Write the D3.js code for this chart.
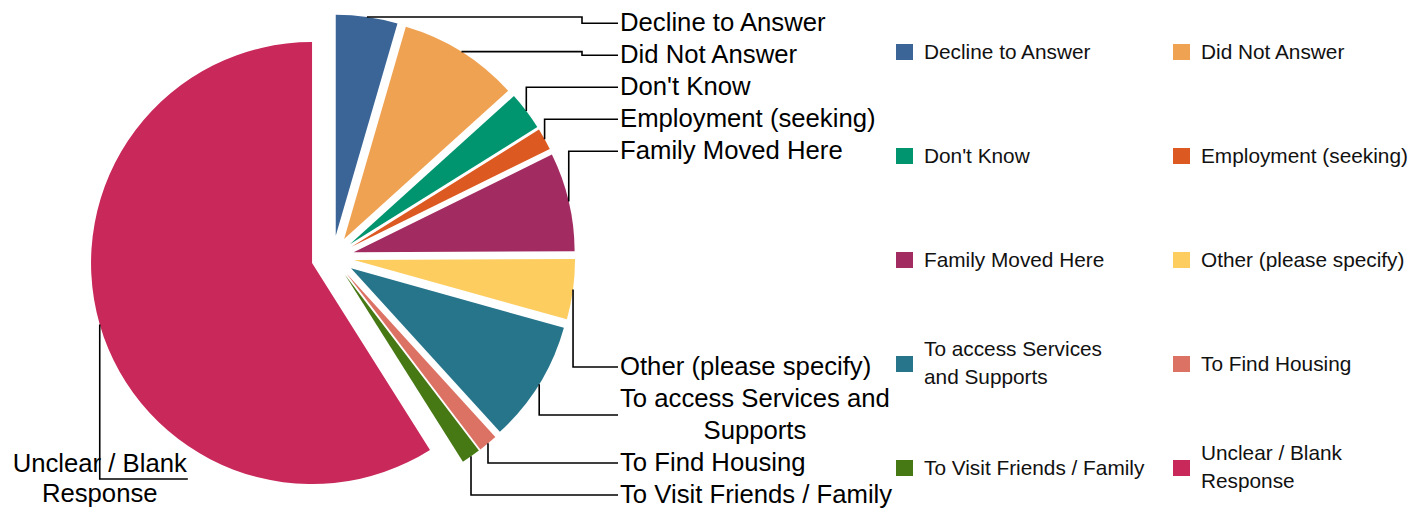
<!DOCTYPE html>
<html><head><meta charset="utf-8">
<script src="https://cdn.jsdelivr.net/npm/d3@7"></script>
<style>
body{margin:0;background:#fff;}
svg{display:block;font-family:"Liberation Sans",Arial,Helvetica,sans-serif;}
</style>
</head><body>
<svg id="chart" width="1427" height="508"></svg>
<script>
// ---- data ----
const categories = [
  "Decline to Answer",
  "Did Not Answer",
  "Don't Know",
  "Employment (seeking)",
  "Family Moved Here",
  "Other (please specify)",
  "To access Services and Supports",
  "To Find Housing",
  "To Visit Friends / Family",
  "Unclear / Blank Response"
];
const values = [4.5, 8.8, 2.8, 1.6, 7.2, 4.4, 8.9, 1.4, 1.4, 58.9];
const colors = [
  "#3b6597", "#f0a253", "#00956f", "#dc5921", "#a22c61",
  "#fdcd60", "#27758b", "#dc7264", "#467814", "#c8285a"
];
// legend text as it is broken into lines in the legend
const legendLabels = [
  ["Decline to Answer"],
  ["Did Not Answer"],
  ["Don't Know"],
  ["Employment (seeking)"],
  ["Family Moved Here"],
  ["Other (please specify)"],
  ["To access Services", "and Supports"],
  ["To Find Housing"],
  ["To Visit Friends / Family"],
  ["Unclear / Blank", "Response"]
];

// ---- layout ----
const W = 1427, H = 508;
const cx = 332.7, cy = 257.1, R = 221, explode = 21.5;
const labelFont = 25.7, labelLine = 32, labelX = 620, labelMaxW = 285;
const legendFont = 20.8, legendLine = 28;

const svg = d3.select("#chart");
const data = categories.map((c, i) => ({cat: c, value: values[i], color: colors[i], leg: legendLabels[i]}));

const pie = d3.pie().sort(null).value(d => d.value).startAngle(0).endAngle(2 * Math.PI);
const arc = d3.arc().innerRadius(0).outerRadius(R);
const arcs = pie(data);

const g = svg.append("g").attr("transform", `translate(${cx},${cy})`);
g.selectAll("path.slice").data(arcs).enter().append("path")
  .attr("class", "slice")
  .attr("d", arc)
  .attr("fill", d => d.data.color)
  .attr("transform", d => {
    const m = (d.startAngle + d.endAngle) / 2;
    return `translate(${explode * Math.sin(m)},${-explode * Math.cos(m)})`;
  });

// text wrapping helper
const measurer = svg.append("text").attr("visibility", "hidden");
function textWidth(s, size) {
  measurer.attr("font-size", size).text(s);
  return measurer.node().getComputedTextLength();
}
function wrap(s, size, maxW) {
  const words = s.split(" ");
  const lines = [];
  let cur = "";
  words.forEach(w => {
    const t = cur ? cur + " " + w : w;
    if (cur && textWidth(t, size) > maxW) { lines.push(cur); cur = w; }
    else cur = t;
  });
  if (cur) lines.push(cur);
  return lines;
}

// ---- labels ----
const labels = arcs.map(d => {
  const m = (d.startAngle + d.endAngle) / 2;
  const ax = cx + (R + explode) * Math.sin(m);
  const ay = cy - (R + explode) * Math.cos(m);
  const lines = wrap(d.data.cat, labelFont, labelMaxW);
  const widths = lines.map(l => textWidth(l, labelFont));
  return {m, ax, ay, lines, bw: d3.max(widths), h: lines.length * labelLine, right: Math.sin(m) > 0};
});

// right side: top group stacked from top, bottom group stacked from bottom
const rightTop = labels.filter(l => l.right && l.ay < cy);
const rightBot = labels.filter(l => l.right && l.ay >= cy);
let yy = 6.3;
rightTop.forEach(l => { l.cyL = yy + l.h / 2; yy += l.h; });
yy = 510;
rightBot.slice().reverse().forEach(l => { l.cyL = yy - l.h / 2; yy -= l.h; });
labels.filter(l => l.right).forEach(l => { l.x0 = labelX; });
// left side
const leftLine = 30;
labels.filter(l => !l.right).forEach(l => {
  l.h = l.lines.length * leftLine;
  l.x0 = l.ax - l.bw / 2;
  l.cyL = 508 - l.h / 2;
});

const lg = svg.append("g");
labels.forEach(l => {
  let p;
  const lh = l.right ? labelLine : leftLine;
  if (l.right) {
    if (Math.abs(l.cyL - l.ay) < 10) {
      p = `M${l.ax},${l.ay}H${labelX - 38}V${l.cyL + 1}H${labelX - 2}`;
    } else {
      p = `M${l.ax},${l.ay}V${l.cyL + 1}H${labelX - 2}`;
    }
  } else {
    p = `M${l.ax},${l.ay}V${l.cyL + 1}H${l.x0 + l.bw + 1}`;
  }
  lg.append("path").attr("d", p).attr("fill", "none").attr("stroke", "#000").attr("stroke-width", 1.6);
  const t = lg.append("text").attr("font-size", labelFont).attr("fill", "#000")
    .attr("text-anchor", "middle");
  l.lines.forEach((line, i) => {
    t.append("tspan").attr("x", l.x0 + l.bw / 2)
      .attr("y", l.cyL - l.h / 2 + lh * (i + 0.5))
      .attr("dominant-baseline", "central").text(line);
  });
});

// ---- legend ----
const legX = [896, 1173], legY0 = 52, legStep = 104, sw = 16;
const leg = svg.append("g");
data.forEach((d, i) => {
  const col = i % 2, row = Math.floor(i / 2);
  const x = legX[col], y = legY0 + row * legStep;
  leg.append("rect").attr("x", x).attr("y", y - sw / 2).attr("width", sw + 1).attr("height", sw).attr("fill", d.color);
  const lines = d.leg;
  const t = leg.append("text").attr("font-size", legendFont).attr("fill", "#111");
  lines.forEach((line, k) => {
    t.append("tspan").attr("x", x + 28)
      .attr("y", y - (lines.length - 1) * legendLine / 2 + k * legendLine - (lines.length > 1 ? 2 : 1))
      .attr("dominant-baseline", "central").text(line);
  });
});
measurer.remove();
</script>
</body></html>
